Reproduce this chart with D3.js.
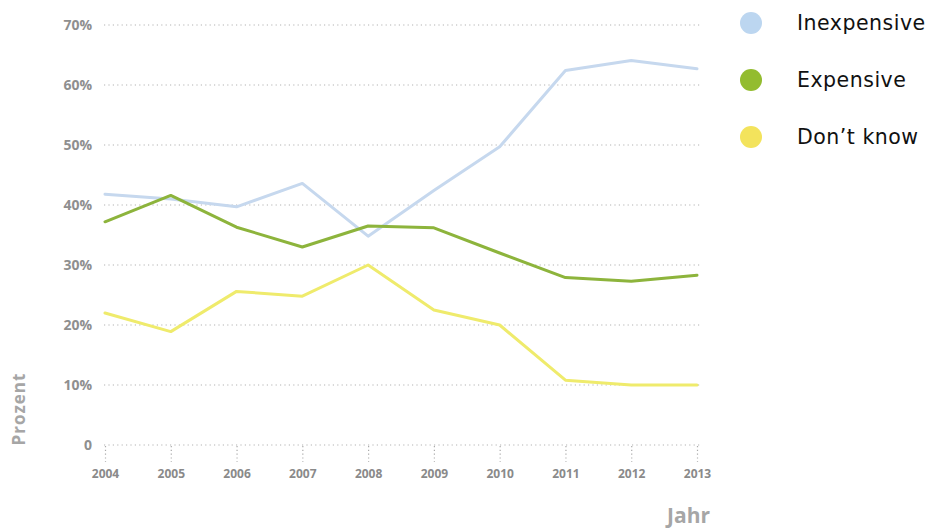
<!DOCTYPE html>
<html>
<head>
<meta charset="utf-8">
<script src="https://cdn.jsdelivr.net/npm/d3@7"></script>
<style>
  html, body { margin: 0; padding: 0; background: #fff; }
  svg { display: block; }
</style>
</head>
<body>
<svg id="chart" width="928" height="528"></svg>
<script>
// Survey shares per year (percent)
const years = [2004, 2005, 2006, 2007, 2008, 2009, 2010, 2011, 2012, 2013];
const inexpensive = [41.8, 41.0, 39.7, 43.6, 34.8, 42.4, 49.7, 62.4, 64.1, 62.7];
const expensive   = [37.2, 41.6, 36.3, 33.0, 36.5, 36.2, 32.0, 27.9, 27.3, 28.3];
const dontKnow    = [22.0, 18.9, 25.6, 24.8, 30.0, 22.5, 20.0, 10.8, 10.0, 10.0];
const seriesNames = ["Inexpensive", "Expensive", "Don\u2019t know"];
const yTicks = [0, 10, 20, 30, 40, 50, 60, 70];

const lineColors = ["#c6d8ee", "#8db43c", "#efeb6c"];
const dotColors  = ["#bcd6f0", "#93bc2f", "#f3e35c"];

const series = [inexpensive, expensive, dontKnow].map((vals, i) => ({
  name: seriesNames[i],
  values: vals.map((v, j) => ({ year: years[j], value: v }))
}));

const svg = d3.select("#chart");
const labelFont = "'Open Sans', 'DejaVu Sans', sans-serif";

const x = d3.scalePoint().domain(years).range([105, 697]);
const y = d3.scaleLinear().domain([0, 70]).range([445, 25]);

// Dotted horizontal grid
const grid = svg.append("g");
grid.selectAll("line").data(yTicks).join("line")
  .attr("x1", 104).attr("x2", 700)
  .attr("y1", d => y(d)).attr("y2", d => y(d))
  .attr("stroke", "#b3b3b3").attr("stroke-width", 1.2)
  .attr("stroke-dasharray", "1.2,3.2");

// Y axis labels
const yAxis = d3.axisLeft(y).tickValues(yTicks)
  .tickFormat(d => d === 0 ? "0" : d + "%").tickSize(0).tickPadding(0);
const gy = svg.append("g").attr("transform", "translate(92,0)").call(yAxis);
gy.select(".domain").remove();
gy.selectAll("text")
  .attr("fill", "#8f8f8f").attr("font-family", labelFont)
  .attr("font-weight", "bold").attr("font-size", 14);

// X axis with dotted tick marks
const xAxis = d3.axisBottom(x).tickSize(16).tickPadding(7);
const gx = svg.append("g").attr("transform", "translate(0,446)").call(xAxis);
gx.select(".domain").remove();
gx.selectAll(".tick line")
  .attr("stroke", "#aaa").attr("stroke-width", 1.2).attr("stroke-dasharray", "1.2,2.6");
gx.selectAll("text")
  .attr("fill", "#8a8a8a").attr("font-family", labelFont)
  .attr("font-weight", "bold").attr("font-size", 12);

// Axis titles
svg.append("text")
  .attr("transform", "translate(25,409) rotate(-90)")
  .attr("text-anchor", "middle")
  .attr("fill", "#a6a6a6").attr("font-family", labelFont)
  .attr("font-weight", "bold").attr("font-size", 17)
  .attr("letter-spacing", 1)
  .text("Prozent");
svg.append("text")
  .attr("x", 710).attr("y", 523)
  .attr("text-anchor", "end")
  .attr("fill", "#a6a6a6").attr("font-family", labelFont)
  .attr("font-weight", "bold").attr("font-size", 21)
  .text("Jahr");

// Series lines
const line = d3.line().x(d => x(d.year)).y(d => y(d.value));
svg.append("g").selectAll("path").data(series).join("path")
  .attr("d", d => line(d.values))
  .attr("fill", "none")
  .attr("stroke", (d, i) => lineColors[i])
  .attr("stroke-width", 3)
  .attr("stroke-linejoin", "round")
  .attr("stroke-linecap", "round");

// Legend
const legend = svg.append("g").selectAll("g").data(seriesNames).join("g")
  .attr("transform", (d, i) => `translate(751,${23 + i * 57})`);
legend.append("circle").attr("r", 11).attr("fill", (d, i) => dotColors[i]);
legend.append("text")
  .attr("x", 46).attr("dy", "0.35em")
  .attr("fill", "#111").attr("font-family", "'DejaVu Sans', Verdana, sans-serif")
  .attr("font-size", 20.5).attr("letter-spacing", 0.5)
  .text(d => d);
</script>
</body>
</html>
